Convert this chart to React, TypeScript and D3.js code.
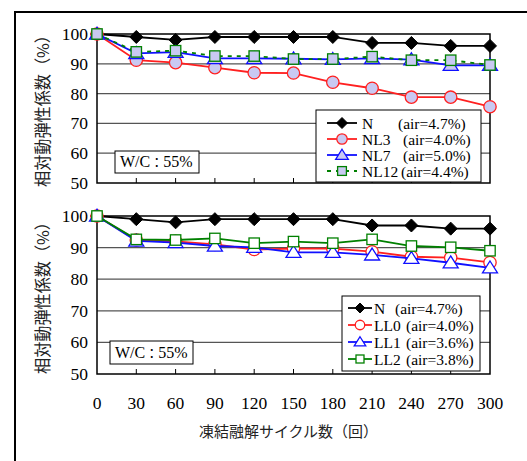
import * as d3 from "d3";

const cycles = [0, 30, 60, 90, 120, 150, 180, 210, 240, 270, 300];
const yTicks = [50, 60, 70, 80, 90, 100];

const seriesN = [100, 99, 98, 99, 99, 99, 99, 97, 97, 96, 96];
const seriesNL3 = [100, 91.2, 90.4, 88.7, 87, 86.9, 83.8, 81.8, 78.8, 78.8, 75.6];
const seriesNL7 = [100, 93.5, 93.9, 91.8, 91.8, 91.7, 91.5, 91.8, 91.4, 89.5, 89.5];
const seriesNL12 = [100, 94, 94.4, 92.6, 92.6, 91.6, 91.6, 92.4, 91.2, 91.2, 89.6];

const seriesLL0 = [100, 92.4, 92, 91, 89.4, 89.7, 89.7, 88.7, 87.1, 86.8, 85.3];
const seriesLL1 = [100, 92.1, 91.6, 90.5, 90.1, 88.5, 88.5, 87.7, 86.6, 85.2, 83.6];
const seriesLL2 = [100, 92.6, 92.4, 92.9, 91.4, 91.9, 91.4, 92.6, 90.5, 90.1, 89];

const lavender = "#c9c9f2";
const serif = "'Liberation Serif', 'DejaVu Serif', serif";
const cjk = "'Noto Sans CJK JP', sans-serif";

type Series = {
  name: string;
  air: string;
  airX: number;
  values: number[];
  color: string;
  marker: "diamond" | "circle" | "triangle" | "square";
  fill: string;
  dash?: string;
};

const topSeries: Series[] = [
  { name: "N", air: "(air=4.7%)", airX: 398, values: seriesN, color: "#000", marker: "diamond", fill: "#000" },
  { name: "NL3", air: "(air=4.0%)", airX: 403, values: seriesNL3, color: "#ff2020", marker: "circle", fill: lavender },
  { name: "NL7", air: "(air=5.0%)", airX: 403, values: seriesNL7, color: "#1010ff", marker: "triangle", fill: lavender },
  { name: "NL12", air: "(air=4.4%)", airX: 401, values: seriesNL12, color: "#008000", marker: "square", fill: lavender, dash: "4,5" },
];

const bottomSeries: Series[] = [
  { name: "N", air: "(air=4.7%)", airX: 395, values: seriesN, color: "#000", marker: "diamond", fill: "#000" },
  { name: "LL0", air: "(air=4.0%)", airX: 406, values: seriesLL0, color: "#ff2020", marker: "circle", fill: "#fff" },
  { name: "LL1", air: "(air=3.6%)", airX: 406, values: seriesLL1, color: "#1010ff", marker: "triangle", fill: "#fff" },
  { name: "LL2", air: "(air=3.8%)", airX: 406, values: seriesLL2, color: "#008000", marker: "square", fill: "#fff" },
];

function Marker({ kind, x, y, s, color, fill }: { kind: Series["marker"]; x: number; y: number; s: number; color: string; fill: string }) {
  if (kind === "diamond") {
    return <path d={`M${x},${y - s}L${x + s},${y}L${x},${y + s}L${x - s},${y}Z`} fill={fill} stroke={color} strokeWidth={1} />;
  }
  if (kind === "circle") {
    return <circle cx={x} cy={y} r={s * 0.95} fill={fill} stroke={color} strokeWidth={1.3} />;
  }
  if (kind === "triangle") {
    const h = s * 1.05;
    return <path d={`M${x},${y - h}L${x + h * 1.1},${y + h * 0.75}L${x - h * 1.1},${y + h * 0.75}Z`} fill={fill} stroke={color} strokeWidth={1.3} />;
  }
  const q = s * 0.8;
  return <rect x={x - q} y={y - q} width={q * 2} height={q * 2} fill={fill} stroke={color} strokeWidth={1.3} />;
}

type PanelProps = {
  top: number;
  bottom: number;
  series: Series[];
  legend: { x0: number; x1: number; y0: number; y1: number; rows: number[]; lx0: number; lx1: number; nameX: number; ms: number };
  wc: { x: number; y: number; w: number; h: number };
  titleStart: number;
  markerSize: number;
  showX: boolean;
};

function Panel({ top, bottom, series, legend, wc, titleStart, markerSize, showX }: PanelProps) {
  const left = 97;
  const right = 490;
  const x = d3.scaleLinear().domain([0, 300]).range([left, right]);
  const y = d3.scaleLinear().domain([50, 100]).range([bottom, top]);
  const line = (vals: number[]) =>
    d3.line<number>().x((_, i) => x(cycles[i])).y((v) => y(v))(vals) ?? "";

  return (
    <g>
      {yTicks.slice(1, -1).map((t) => (
        <line key={t} x1={left} x2={right} y1={y(t)} y2={y(t)} stroke="#555" strokeWidth={1.2} />
      ))}
      <rect x={left} y={top} width={right - left} height={bottom - top} fill="none" stroke="#000" strokeWidth={1.5} />
      {cycles.slice(1, -1).map((c) => (
        <line key={c} x1={x(c)} x2={x(c)} y1={bottom} y2={bottom - 5} stroke="#000" strokeWidth={1} />
      ))}
      {yTicks.map((t) => (
        <text key={t} x={88} y={y(t) + 6} textAnchor="end" fontFamily={serif} fontSize={17.5}>
          {t}
        </text>
      ))}
      {showX &&
        cycles.map((c) => (
          <text key={c} x={x(c)} y={409} textAnchor="middle" fontFamily={serif} fontSize={17.5}>
            {c}
          </text>
        ))}
      <text
        transform={`translate(49,${titleStart}) rotate(-90)`}
        textAnchor="start"
        fontFamily={cjk}
        fontSize={16.5}
        textLength={160}
        lengthAdjust="spacingAndGlyphs"
        fill="#222"
      >
        相対動弾性係数（%）
      </text>

      <rect x={wc.x} y={wc.y} width={wc.w} height={wc.h} fill="#fff" stroke="#000" strokeWidth={1} />
      <text x={wc.x + 5} y={wc.y + wc.h - 6} fontFamily={serif} fontSize={16}>
        W/C<tspan fontFamily={cjk} fontSize={13}>：</tspan>55%
      </text>

      {series.map((s) => (
        <g key={s.name}>
          <path d={line(s.values)} fill="none" stroke={s.color} strokeWidth={1.8} strokeDasharray={s.dash} />
          {s.values.map((v, i) => (
            <Marker key={i} kind={s.marker} x={x(cycles[i])} y={y(v)} s={markerSize} color={s.color} fill={s.fill} />
          ))}
        </g>
      ))}

      <rect
        x={legend.x0}
        y={legend.y0}
        width={legend.x1 - legend.x0}
        height={legend.y1 - legend.y0}
        fill="#fff"
        stroke="#000"
        strokeWidth={1}
      />
      {series.map((s, i) => {
        const ry = legend.rows[i];
        const mx = (legend.lx0 + legend.lx1) / 2;
        return (
          <g key={s.name}>
            <line x1={legend.lx0} x2={legend.lx1} y1={ry} y2={ry} stroke={s.color} strokeWidth={1.8} strokeDasharray={s.dash} />
            <Marker kind={s.marker} x={mx} y={ry} s={legend.ms} color={s.color} fill={s.fill} />
            <text x={legend.nameX} y={ry + 5.5} fontFamily={serif} fontSize={15.5}>
              {s.name}
            </text>
            <text x={s.airX} y={ry + 5.5} fontFamily={serif} fontSize={15.5}>
              {s.air}
            </text>
          </g>
        );
      })}
    </g>
  );
}

export default function App() {
  return (
    <svg width={527} height={461} style={{ position: "absolute", left: 0, top: 0, background: "#fff" }}>
      <rect x={0} y={0} width={527} height={461} fill="#fff" />
      <path d="M15,470V12H540" fill="none" stroke="#000" strokeWidth={2} />
      <Panel
        top={34}
        bottom={183}
        series={topSeries}
        legend={{ x0: 316, x1: 481, y0: 110, y1: 182, rows: [123, 139, 155, 171], lx0: 327, lx1: 357, nameX: 362, ms: 5.5 }}
        wc={{ x: 115, y: 151, w: 84, h: 22 }}
        titleStart={187}
        markerSize={6.5}
        showX={false}
      />
      <Panel
        top={216}
        bottom={374}
        series={bottomSeries}
        legend={{ x0: 342, x1: 480, y0: 296, y1: 371, rows: [308, 325, 342, 359], lx0: 348, lx1: 372, nameX: 374, ms: 5 }}
        wc={{ x: 110, y: 341, w: 83, h: 23 }}
        titleStart={374}
        markerSize={6.5}
        showX={true}
      />
      <text x={199} y={437} fontFamily={cjk} fontSize={15} textLength={179} lengthAdjust="spacingAndGlyphs" fill="#222">
        凍結融解サイクル数（回）
      </text>
    </svg>
  );
}
